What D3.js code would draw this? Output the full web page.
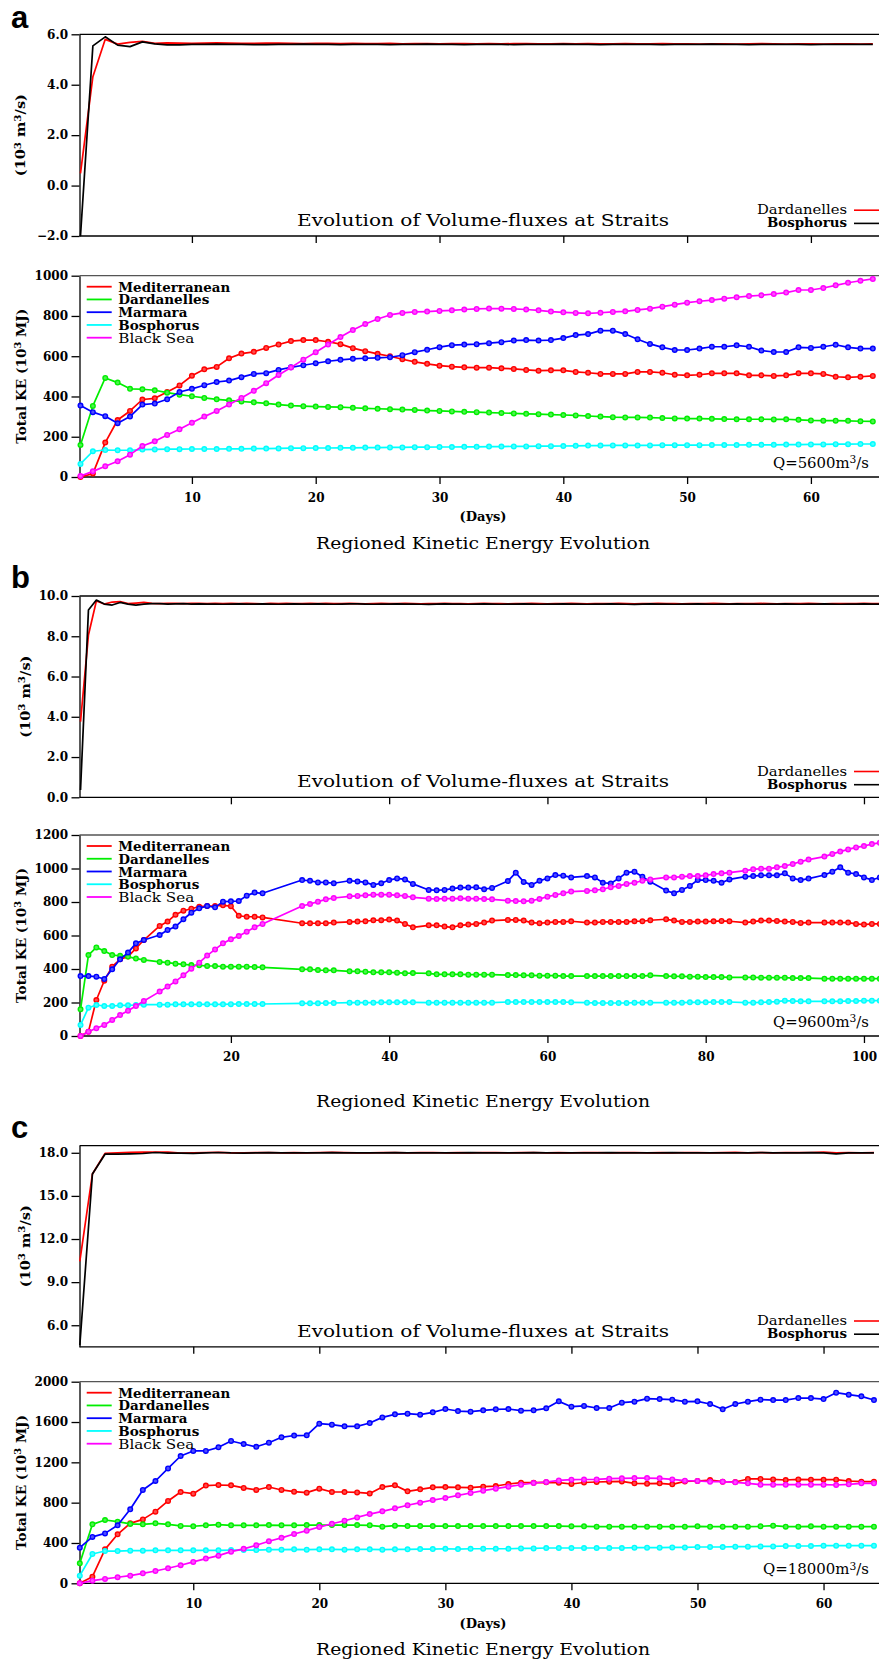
<!DOCTYPE html>
<html>
<head>
<meta charset="utf-8">
<script src="https://cdn.jsdelivr.net/npm/d3@7"></script>
<style>
  body { margin: 0; background: #fff; }
  svg { display: block; }
  text { font-family: 'DejaVu Serif', 'Liberation Serif', serif; fill: #000; }
</style>
</head>
<body>
<script>
// ---------------- labels ----------------
const regionNames = ["Mediterranean", "Dardanelles", "Marmara", "Bosphorus", "Black Sea"];
const straitNames = ["Dardanelles", "Bosphorus"];
const dischargeLabels = ["5600", "9600", "18000"];

// ---------------- tick values ----------------
const dayTicksA = [10, 20, 30, 40, 50, 60];
const dayTicksB = [20, 40, 60, 80, 100];
const dayTicksC = [10, 20, 30, 40, 50, 60];
const fluxTicksA = [-2, 0, 2, 4, 6];
const fluxTicksB = [0, 2, 4, 6, 8, 10];
const fluxTicksC = [6, 9, 12, 15, 18];
const keTicksA = [0, 200, 400, 600, 800, 1000];
const keTicksB = [0, 200, 400, 600, 800, 1000, 1200];
const keTicksC = [0, 400, 800, 1200, 1600, 2000];

// ================= Q = 5600 m3/s =================
const daysA = d3.range(1, 66);
const fluxDardA = [0.48, 4.32, 5.80, 5.61, 5.68, 5.72, 5.64, 5.66, 5.65, 5.64,
  5.65, 5.66, 5.65, 5.64, 5.64, 5.65, 5.65, 5.64, 5.63, 5.64,
  5.64, 5.63, 5.64, 5.63, 5.63, 5.64, 5.62, 5.63, 5.63, 5.62,
  5.63, 5.63, 5.62, 5.63, 5.62, 5.63, 5.63, 5.62, 5.62, 5.63,
  5.62, 5.63, 5.62, 5.62, 5.63, 5.62, 5.62, 5.63, 5.62, 5.62,
  5.61, 5.62, 5.62, 5.61, 5.62, 5.63, 5.62, 5.61, 5.62, 5.62,
  5.61, 5.62, 5.62, 5.61, 5.62];
const fluxBosA = [-2.0, 5.54, 5.90, 5.57, 5.51, 5.70, 5.62, 5.58, 5.58, 5.60,
  5.60, 5.61, 5.60, 5.60, 5.59, 5.59, 5.60, 5.60, 5.61, 5.60,
  5.60, 5.59, 5.60, 5.60, 5.60, 5.59, 5.60, 5.60, 5.61, 5.60,
  5.60, 5.59, 5.60, 5.60, 5.60, 5.59, 5.60, 5.60, 5.60, 5.61,
  5.60, 5.60, 5.59, 5.60, 5.60, 5.60, 5.60, 5.59, 5.60, 5.60,
  5.60, 5.61, 5.60, 5.60, 5.59, 5.60, 5.60, 5.60, 5.60, 5.59,
  5.60, 5.60, 5.60, 5.60, 5.60];
const keMedA = [0, 17, 171, 283, 328, 385, 391, 422, 455, 503, 535, 547, 590, 613, 622, 641, 658, 675,
  680, 680, 672, 660, 640, 625, 612, 600, 585, 572, 562, 553, 548, 545, 543, 543, 540, 537, 532, 528, 530, 530, 522,
  518, 512, 512, 512, 522, 522, 518, 508, 505, 508, 515, 515, 515, 505, 505, 502, 505, 515, 515, 512, 498, 495, 498, 502];
const keDarA = [159, 353, 492, 469, 438, 436, 431, 419, 409, 401, 393, 386, 381, 375, 371, 366, 360, 355,
  352, 350, 348, 347, 344, 341, 339, 337, 335, 333, 330, 328, 326, 324, 322, 320, 318, 316, 314, 312, 310, 308, 306,
  303, 300, 297, 296, 296, 295, 293, 291, 290, 290, 289, 288, 287, 287, 287, 286, 287, 284, 281, 280, 280, 279, 277, 276];
const keMarA = [355, 322, 302, 267, 300, 360, 365, 386, 422, 438, 456, 472, 479, 496, 512, 516, 532, 545,
  555, 565, 575, 582, 587, 590, 592, 595, 605, 620, 632, 645, 655, 658, 660, 665, 670, 678, 680, 678, 680, 690, 705,
  710, 727, 727, 710, 684, 661, 644, 631, 631, 638, 647, 647, 654, 647, 628, 621, 621, 644, 641, 647, 657, 644, 638, 638];
const keBosA = [65, 128, 134, 133, 133, 136, 137, 138, 138, 139, 139, 139, 140, 140, 141, 141, 142, 143,
  143, 144, 144, 145, 145, 146, 146, 147, 147, 148, 148, 149, 149, 150, 150, 151, 151, 152, 152, 153, 153, 154, 155,
  156, 156, 157, 157, 157, 157, 158, 158, 158, 158, 159, 159, 159, 160, 160, 160, 161, 161, 162, 162, 163, 163, 164, 164];
const keBlkA = [5, 28, 53, 78, 111, 154, 177, 209, 237, 269, 300, 328, 360, 393, 428, 466, 507, 544,
  583, 620, 658, 695, 730, 760, 785, 805, 815, 820, 822, 825, 828, 832, 835, 837, 836, 835, 832, 828, 822, 818, 815,
  813, 816, 820, 823, 830, 836, 846, 856, 866, 873, 879, 886, 893, 899, 903, 909, 916, 929, 929, 939, 952, 965, 975, 984];

// ================= Q = 9600 m3/s =================
const fluxDaysB = d3.range(1, 103);
const fluxDardB = [3.76, 8.06, 9.75, 9.60, 9.70, 9.72, 9.62, 9.65, 9.68, 9.63,
  9.62, 9.64, 9.63, 9.62, 9.63, 9.64, 9.62, 9.63, 9.62, 9.63,
  9.62, 9.63, 9.62, 9.61, 9.63, 9.62, 9.63, 9.62, 9.62, 9.63,
  9.62, 9.63, 9.62, 9.62, 9.63, 9.62, 9.61, 9.62, 9.63, 9.62,
  9.62, 9.63, 9.62, 9.61, 9.62, 9.62, 9.63, 9.62, 9.62, 9.61,
  9.62, 9.63, 9.62, 9.62, 9.61, 9.62, 9.62, 9.63, 9.62, 9.61,
  9.62, 9.62, 9.63, 9.62, 9.61, 9.62, 9.62, 9.62, 9.63, 9.62,
  9.61, 9.62, 9.62, 9.63, 9.62, 9.62, 9.61, 9.62, 9.62, 9.62,
  9.63, 9.62, 9.61, 9.62, 9.62, 9.62, 9.63, 9.62, 9.61, 9.62,
  9.62, 9.62, 9.63, 9.62, 9.61, 9.62, 9.62, 9.62, 9.62, 9.63,
  9.62, 9.62];
const fluxBosB = [0.36, 9.30, 9.80, 9.60, 9.55, 9.68, 9.60, 9.55, 9.60, 9.62,
  9.62, 9.60, 9.61, 9.62, 9.60, 9.61, 9.60, 9.60, 9.59, 9.60,
  9.61, 9.60, 9.60, 9.61, 9.60, 9.59, 9.60, 9.61, 9.60, 9.60,
  9.61, 9.60, 9.59, 9.60, 9.61, 9.61, 9.60, 9.59, 9.60, 9.60,
  9.61, 9.60, 9.60, 9.59, 9.58, 9.60, 9.61, 9.60, 9.60, 9.59,
  9.60, 9.61, 9.60, 9.59, 9.60, 9.60, 9.61, 9.60, 9.59, 9.60,
  9.60, 9.61, 9.60, 9.60, 9.59, 9.60, 9.60, 9.61, 9.60, 9.59,
  9.58, 9.60, 9.61, 9.60, 9.60, 9.59, 9.60, 9.60, 9.61, 9.60,
  9.59, 9.60, 9.60, 9.61, 9.60, 9.60, 9.59, 9.60, 9.60, 9.61,
  9.60, 9.59, 9.60, 9.60, 9.61, 9.60, 9.59, 9.60, 9.60, 9.61,
  9.60, 9.60];
// kinetic energy output days (some days have no record)
const keDaysB = [1, 2, 3, 4, 5, 6, 7, 8, 9,
  11, 12, 13, 14, 15, 16, 17, 18, 19, 20, 21, 22, 23, 24,
  29, 30, 31, 32, 33,
  35, 36, 37, 38, 39, 40, 41, 42, 43,
  45, 46, 47, 48, 49, 50, 51, 52, 53,
  55, 56, 57, 58, 59, 60, 61, 62, 63,
  65, 66, 67, 68, 69, 70, 71, 72, 73,
  75, 76, 77, 78, 79, 80, 81, 82, 83,
  85, 86, 87, 88, 89, 90, 91, 92, 93,
  95, 96, 97, 98, 99, 100, 101, 102];
const keMedB = [0, 26, 215, 330, 414, 458, 474, 523, 573,
  657, 683, 724, 748, 760, 772, 776, 776, 780, 775, 718, 712, 712, 708,
  673, 673, 673, 673, 677,
  681, 683, 685, 691, 691, 695, 689, 669, 649,
  661, 661, 653, 649, 661, 665, 669, 677, 689,
  693, 693, 689, 677, 673, 677, 681, 681, 685,
  677, 677, 681, 681, 681, 681, 685, 685, 691,
  697, 689, 681, 681, 683, 683, 685, 687, 685,
  677, 683, 689, 689, 687, 683, 681, 675, 677,
  677, 677, 677, 677, 669, 665, 669, 669];
const keDarB = [159, 483, 529, 507, 483, 479, 474, 462, 454,
  442, 438, 432, 428, 424, 422, 418, 418, 414, 414, 414, 414, 412, 410,
  398, 398, 394, 392, 392,
  386, 386, 384, 380, 380, 380, 378, 374, 376,
  374, 368, 368, 368, 368, 366, 366, 366, 366,
  364, 364, 362, 362, 360, 360, 360, 358, 358,
  358, 358, 358, 358, 358, 358, 358, 358, 362,
  358, 356, 356, 354, 354, 352, 352, 352, 350,
  350, 350, 348, 348, 348, 348, 346, 346, 346,
  342, 342, 342, 342, 342, 342, 342, 342];
const keMarB = [358, 358, 354, 340, 398, 458, 498, 553, 573,
  603, 633, 653, 697, 736, 762, 776, 768, 802, 804, 806, 838, 856, 852,
  931, 927, 917, 917, 912,
  927, 923, 917, 902, 912, 931, 941, 935, 908,
  872, 870, 872, 880, 886, 886, 888, 876, 884,
  925, 975, 920, 902, 927, 941, 961, 957, 947,
  955, 947, 915, 911, 941, 975, 981, 951, 921,
  868, 852, 872, 896, 931, 931, 927, 915, 935,
  951, 955, 959, 959, 959, 971, 941, 931, 940,
  961, 981, 1007, 975, 967, 947, 931, 947];
const keBosB = [66, 169, 185, 179, 179, 183, 183, 185, 187,
  187, 187, 189, 189, 189, 189, 189, 189, 189, 190, 191, 191, 191, 191,
  195, 195, 195, 197, 197,
  199, 199, 199, 199, 201, 201, 201, 201, 201,
  199, 199, 199, 199, 199, 199, 199, 199, 199,
  203, 203, 203, 203, 203, 203, 203, 203, 201,
  199, 197, 197, 197, 197, 197, 199, 199, 199,
  199, 199, 199, 201, 201, 201, 203, 203, 203,
  199, 199, 201, 203, 205, 211, 209, 207, 207,
  207, 207, 207, 209, 209, 211, 211, 211];
const keBlkB = [0, 26, 46, 66, 96, 125, 151, 179, 209,
  265, 295, 326, 362, 402, 438, 480, 517, 553, 577, 597, 623, 649, 669,
  776, 788, 802, 816, 824,
  834, 836, 840, 844, 844, 844, 840, 836, 828,
  820, 818, 820, 820, 822, 820, 820, 818, 816,
  808, 806, 804, 808, 818, 832, 842, 852, 862,
  866, 870, 876, 888, 896, 908, 915, 927, 935,
  947, 947, 951, 955, 955, 959, 967, 971, 975,
  987, 995, 999, 999, 1007, 1015, 1027, 1041, 1053,
  1071, 1087, 1101, 1114, 1126, 1134, 1146, 1154];

// ================= Q = 18000 m3/s =================
const daysC = d3.range(1, 65);
const fluxDardC = [10.44, 16.52, 17.96, 18.00, 18.03, 18.04, 18.05, 18.05, 17.98, 18.00,
  18.02, 18.03, 18.00, 17.99, 18.01, 18.02, 17.99, 18.01, 18.00, 18.02,
  18.03, 18.01, 17.99, 18.00, 18.02, 18.01, 18.00, 18.01, 18.02, 18.00,
  18.01, 18.00, 18.02, 18.01, 18.00, 18.01, 18.02, 18.00, 18.01, 18.00,
  18.02, 18.01, 18.00, 18.01, 18.02, 18.00, 18.01, 18.00, 18.02, 18.01,
  18.00, 18.01, 18.03, 18.00, 18.01, 18.00, 18.02, 18.01, 18.02, 18.04,
  18.00, 18.01, 18.00, 18.01];
const fluxBosC = [4.60, 16.52, 17.90, 17.90, 17.92, 17.95, 18.02, 17.98, 17.97, 17.96,
  18.00, 18.02, 17.99, 17.98, 18.00, 18.01, 17.99, 18.00, 17.99, 18.00,
  18.01, 18.00, 17.99, 18.00, 18.00, 18.01, 17.99, 18.00, 18.00, 17.99,
  18.00, 18.01, 18.00, 17.99, 18.00, 18.00, 18.01, 17.99, 18.00, 18.00,
  17.99, 18.00, 18.01, 18.00, 17.99, 18.00, 18.00, 18.01, 17.99, 18.00,
  18.00, 18.00, 17.99, 18.00, 18.01, 18.00, 17.99, 18.00, 18.01, 18.00,
  17.92, 18.00, 17.99, 18.00];
const keMedC = [0, 66, 337, 486, 595, 634, 711, 817, 906, 889, 969, 975, 972, 946, 926, 955, 926, 909,
  899, 939, 906, 906, 902, 892, 955, 972, 912, 932, 952, 955, 952, 949, 959, 965, 985, 998, 998, 1002, 998, 985, 1000,
  1005, 1008, 1011, 992, 988, 992, 982, 1011, 1015, 1025, 1008, 1005, 1035, 1035, 1031, 1025, 1031, 1028, 1028, 1028, 1015, 1008, 1008];
const keDarC = [198, 585, 628, 611, 589, 585, 595, 585, 569, 566, 575, 582, 575, 575, 575, 578, 575, 575,
  578, 578, 578, 578, 578, 575, 562, 572, 568, 568, 568, 568, 568, 568, 568, 568, 568, 568, 568, 568, 568, 565, 565,
  562, 562, 562, 562, 562, 562, 562, 562, 565, 562, 562, 562, 562, 565, 572, 562, 562, 565, 562, 562, 562, 562, 562];
const keMarC = [353, 460, 495, 575, 734, 926, 1015, 1140, 1263, 1313, 1313, 1349, 1412, 1382, 1354, 1395, 1448, 1466,
  1468, 1584, 1574, 1557, 1557, 1590, 1646, 1676, 1683, 1673, 1696, 1729, 1709, 1703, 1716, 1726, 1729, 1713, 1716, 1736, 1805, 1752, 1760,
  1739, 1739, 1792, 1802, 1832, 1828, 1822, 1802, 1805, 1779, 1726, 1779, 1802, 1822, 1818, 1818, 1838, 1838, 1828, 1891, 1871, 1855, 1818];
const keBosC = [76, 291, 320, 320, 324, 324, 327, 327, 327, 327, 327, 327, 330, 330, 330, 334, 334, 337,
  334, 337, 337, 334, 337, 337, 334, 337, 337, 340, 340, 343, 340, 343, 343, 343, 343, 346, 346, 350, 350, 350, 350,
  350, 350, 350, 353, 353, 353, 356, 356, 360, 360, 360, 363, 363, 366, 366, 370, 370, 370, 373, 373, 373, 373, 373];
const keBlkC = [0, 26, 43, 60, 76, 99, 122, 149, 179, 212, 245, 274, 314, 342, 377, 417, 451, 489,
  522, 558, 591, 621, 654, 687, 714, 744, 774, 800, 826, 846, 873, 896, 919, 939, 959, 978, 995, 1005, 1021, 1028, 1030,
  1031, 1038, 1041, 1044, 1044, 1041, 1031, 1018, 1015, 1008, 1008, 1002, 992, 978, 978, 978, 978, 978, 978, 975, 982, 992, 992];

// ---------------- styling ----------------
const regionColors = ["#ff0000", "#00ee00", "#0000ff", "#00ffff", "#ff00ff"];
const regionBold = [true, true, true, true, false];
const regionLabelWidths = [112, 91, 69, 81, 76];
const straitColors = ["#ff0000", "#000000"];
const SANS = "'Liberation Sans', Arial, sans-serif";

const W = 879, H = 1663;
const svg = d3.select("body").append("svg").attr("width", W).attr("height", H);
svg.append("rect").attr("width", W).attr("height", H).attr("fill", "#fff");

// text with superscript pieces: parts is a list of strings or {sup: "3"}
function richText(parent, parts, attrs) {
  const t = parent.append("text");
  Object.entries(attrs).forEach(([k, v]) => t.attr(k, v));
  let raised = false;
  parts.forEach(p => {
    const isSup = typeof p !== "string";
    const ts = t.append("tspan").text(isSup ? p.sup : p);
    if (isSup) {
      ts.attr("font-size", "72%");
      if (!raised) { ts.attr("dy", "-0.45em"); raised = true; }
    } else if (raised) {
      ts.attr("dy", "0.324em"); raised = false;
    }
  });
  return t;
}

function styleAxis(g, size) {
  g.attr("font-family", null).attr("font-size", null);
  g.selectAll(".domain").attr("stroke", "#000").attr("stroke-width", 1.3);
  g.selectAll(".tick line").attr("stroke", "#000").attr("stroke-width", 1.3);
  g.selectAll(".tick text")
    .attr("font-size", size).attr("font-weight", "bold").attr("fill", "#000")
    .style("font-family", "'DejaVu Serif', 'Liberation Serif', serif");
}

const X0 = 79.5, X1 = 880;

const panels = [
  {
    letter: "a", letterY: 28, xDomain: [0.92, 65.5], xTicks: dayTicksA,
    flux: { top: 34.3, bottom: 236, domain: [-2, 6], ticks: fluxTicksA,
            days: daysA, series: [fluxDardA, fluxBosA], labelX: 25 },
    ke: { top: 275.7, bottom: 477, domain: [0, 1000], ticks: keTicksA,
          days: daysA, series: [keMedA, keDarA, keMarA, keBosA, keBlkA] },
    q: dischargeLabels[0], qWidth: 96, showDays: true, titleY: 543.3
  },
  {
    letter: "b", letterY: 588, xDomain: [0.87, 101.9], xTicks: dayTicksB,
    flux: { top: 596, bottom: 797.3, domain: [0, 10], ticks: fluxTicksB,
            days: fluxDaysB, series: [fluxDardB, fluxBosB], labelX: 29.5 },
    ke: { top: 835, bottom: 1036, domain: [0, 1200], ticks: keTicksB,
          days: keDaysB, series: [keMedB, keDarB, keMarB, keBosB, keBlkB] },
    q: dischargeLabels[1], qWidth: 96, showDays: false, titleY: 1101
  },
  {
    letter: "c", letterY: 1138, xDomain: [0.976, 64.4], xTicks: dayTicksC,
    flux: { top: 1145.6, bottom: 1346.8, domain: [4.5, 18.5], ticks: fluxTicksC,
            days: daysC, series: [fluxDardC, fluxBosC], labelX: 29.5 },
    ke: { top: 1381.7, bottom: 1583.3, domain: [0, 2000], ticks: keTicksC,
          days: daysC, series: [keMedC, keDarC, keMarC, keBosC, keBlkC] },
    q: dischargeLabels[2], qWidth: 106, showDays: true, titleY: 1649.8
  }
];

panels.forEach(p => {
  const g = svg.append("g");
  const x = d3.scaleLinear().domain(p.xDomain).range([X0, 879]);

  // panel letter
  g.append("text").attr("x", 11).attr("y", p.letterY)
    .style("font-family", SANS).attr("font-weight", "bold").attr("font-size", 31)
    .text(p.letter);

  // ---------- strait volume fluxes ----------
  const f = p.flux;
  const yf = d3.scaleLinear().domain(f.domain).range([f.bottom, f.top]);
  g.append("line").attr("x1", X0).attr("x2", X1).attr("y1", f.top).attr("y2", f.top)
    .attr("stroke", "#000").attr("stroke-width", 1.3);
  const fx = g.append("g").attr("transform", `translate(0,${f.bottom})`)
    .call(d3.axisBottom(x).tickValues(p.xTicks).tickSize(7).tickSizeOuter(0).tickFormat(""));
  styleAxis(fx, 12);
  fx.select(".domain").attr("d", `M${X0},0H${X1}`);
  const fy = g.append("g").attr("transform", `translate(${X0},0)`)
    .call(d3.axisLeft(yf).tickValues(f.ticks).tickSize(8).tickSizeOuter(0).tickPadding(3.5)
      .tickFormat(v => d3.format(".1f")(v).replace("-", "\u2212")));
  styleAxis(fy, 12);

  const fluxLine = d3.line().x(d => x(d[0])).y(d => yf(d[1]));
  f.series.forEach((vals, i) => {
    g.append("path").datum(f.days.map((d, j) => [d, vals[j]]))
      .attr("d", fluxLine).attr("fill", "none")
      .attr("stroke", straitColors[i]).attr("stroke-width", 1.7)
      .attr("stroke-linejoin", "round");
  });

  richText(g, ["(10", { sup: "3" }, " m", { sup: "3" }, "/s)"], {
    transform: `translate(${f.labelX},${(f.top + f.bottom) / 2}) rotate(-90)`,
    "text-anchor": "middle", "font-size": 13, "font-weight": "bold",
    textLength: 82, lengthAdjust: "spacingAndGlyphs"
  });

  g.append("text").attr("x", 483).attr("y", f.bottom - 15.5)
    .attr("text-anchor", "middle").attr("dominant-baseline", "central")
    .attr("font-size", 16).attr("textLength", 372).attr("lengthAdjust", "spacingAndGlyphs")
    .text("Evolution of Volume-fluxes at Straits");

  straitNames.forEach((name, i) => {
    const yy = f.bottom - 26.8 + 13.2 * i;
    g.append("text").attr("x", 847).attr("y", yy)
      .attr("text-anchor", "end").attr("dominant-baseline", "central")
      .attr("font-size", 13.5).attr("font-weight", i === 1 ? "bold" : "normal")
      .attr("textLength", i === 1 ? 80 : 90).attr("lengthAdjust", "spacingAndGlyphs")
      .text(name);
    g.append("line").attr("x1", 854).attr("x2", 880).attr("y1", yy + 1).attr("y2", yy + 1)
      .attr("stroke", straitColors[i]).attr("stroke-width", 1.6);
  });

  // ---------- regional kinetic energy ----------
  const k = p.ke;
  const yk = d3.scaleLinear().domain(k.domain).range([k.bottom, k.top]);
  g.append("line").attr("x1", X0).attr("x2", X1).attr("y1", k.top).attr("y2", k.top)
    .attr("stroke", "#555").attr("stroke-width", 1.3);
  const kx = g.append("g").attr("transform", `translate(0,${k.bottom})`)
    .call(d3.axisBottom(x).tickValues(p.xTicks).tickSize(7).tickSizeOuter(0).tickPadding(9)
      .tickFormat(d3.format("d")));
  styleAxis(kx, 12);
  kx.select(".domain").attr("d", `M${X0},0H${X1}`);
  const ky = g.append("g").attr("transform", `translate(${X0},0)`)
    .call(d3.axisLeft(yk).tickValues(k.ticks).tickSize(8).tickSizeOuter(0).tickPadding(3.5)
      .tickFormat(d3.format("d")));
  styleAxis(ky, 12);

  const keLine = d3.line().x(d => x(d[0])).y(d => yk(d[1]));
  k.series.forEach((vals, i) => {
    const pts = k.days.map((d, j) => [d, vals[j]]);
    const col = regionColors[i];
    g.append("path").datum(pts).attr("d", keLine).attr("fill", "none")
      .attr("stroke", col).attr("stroke-width", 1.7).attr("stroke-linejoin", "round");
    g.append("g").selectAll("circle").data(pts).join("circle")
      .attr("cx", d => x(d[0])).attr("cy", d => yk(d[1])).attr("r", 2.3)
      .attr("fill", d3.interpolateRgb(col, "#fff")(0.3))
      .attr("stroke", col).attr("stroke-width", 1.4);
  });

  // legend
  regionNames.forEach((name, i) => {
    const yy = k.top + 11 + 12.75 * i;
    g.append("line").attr("x1", 86.7).attr("x2", 111.7).attr("y1", yy).attr("y2", yy)
      .attr("stroke", regionColors[i]).attr("stroke-width", 1.8);
    g.append("text").attr("x", 118.3).attr("y", yy)
      .attr("dominant-baseline", "central").attr("font-size", 13.5)
      .attr("font-weight", regionBold[i] ? "bold" : "normal")
      .attr("textLength", regionLabelWidths[i]).attr("lengthAdjust", "spacingAndGlyphs")
      .text(name);
  });

  richText(g, ["Q=" + p.q + "m", { sup: "3" }, "/s"], {
    x: 869, y: k.bottom - 9, "text-anchor": "end", "font-size": 14,
    textLength: p.qWidth, lengthAdjust: "spacingAndGlyphs"
  });

  richText(g, ["Total KE (10", { sup: "3" }, " MJ)"], {
    transform: `translate(25.5,${(k.top + k.bottom) / 2}) rotate(-90)`,
    "text-anchor": "middle", "font-size": 13, "font-weight": "bold",
    textLength: 135, lengthAdjust: "spacingAndGlyphs"
  });

  if (p.showDays) {
    g.append("text").attr("x", 483).attr("y", k.bottom + 39.7)
      .attr("text-anchor", "middle").attr("dominant-baseline", "central")
      .attr("font-size", 12.5).attr("font-weight", "bold")
      .attr("textLength", 47).attr("lengthAdjust", "spacingAndGlyphs")
      .text("(Days)");
  }
  g.append("text").attr("x", 483).attr("y", p.titleY)
    .attr("text-anchor", "middle").attr("dominant-baseline", "central")
    .attr("font-size", 16.5).attr("textLength", 334).attr("lengthAdjust", "spacingAndGlyphs")
    .text("Regioned Kinetic Energy Evolution");
});
</script>
</body>
</html>
